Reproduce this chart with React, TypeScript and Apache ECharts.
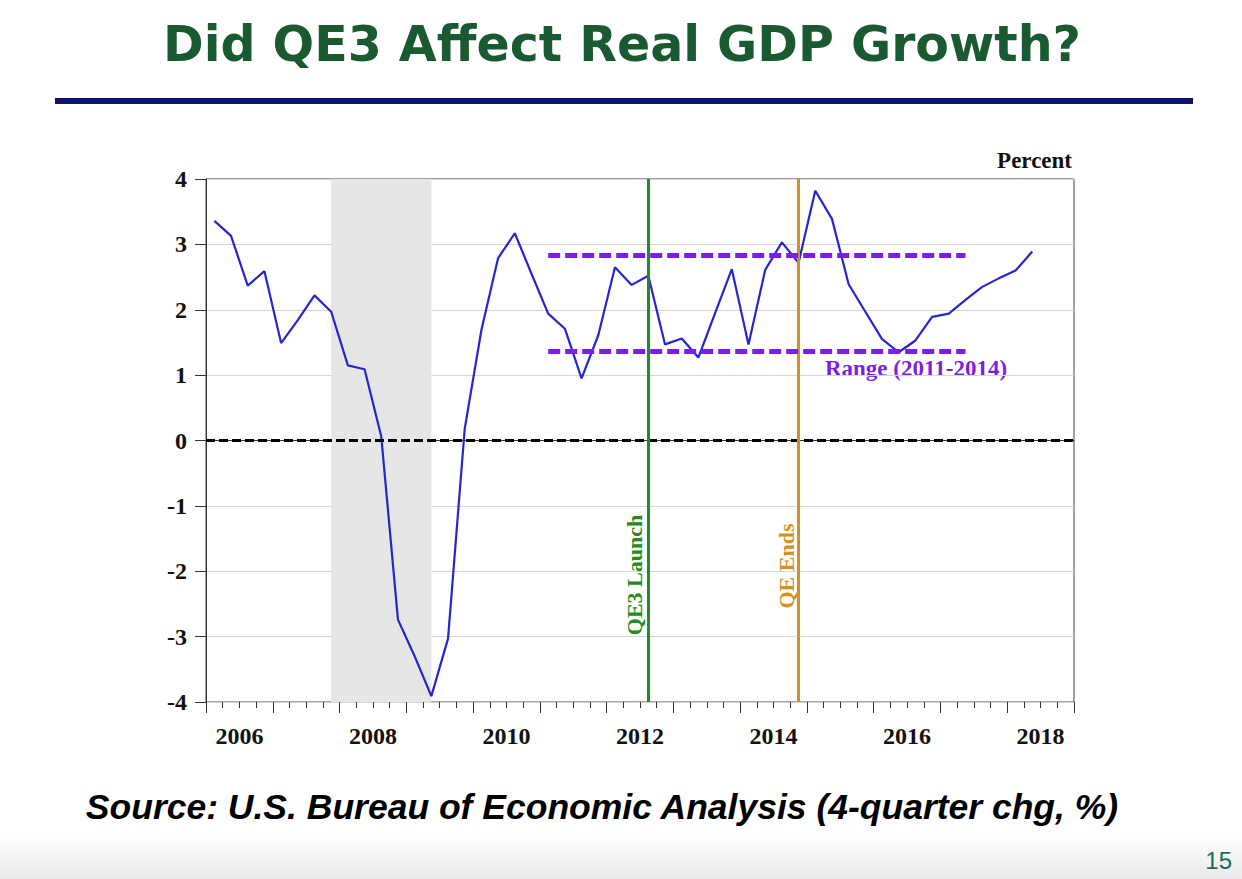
import React, { useEffect, useRef } from "react";
import * as echarts from "echarts";

// ---- data ----
const START_YEAR = 2006;
const AXIS_QUARTERS = 52; // 2006Q1 .. 2018Q4
// Real GDP, 4-quarter % change, 2006Q1 .. 2018Q2
const gdpGrowth = [
  3.36, 3.13, 2.37, 2.59, 1.49, 1.84, 2.22, 1.97, 1.15, 1.09,
  0.06, -2.74, -3.3, -3.91, -3.03, 0.18, 1.69, 2.79, 3.17, 2.55,
  1.94, 1.71, 0.95, 1.61, 2.65, 2.38, 2.52, 1.47, 1.56, 1.27,
  1.95, 2.62, 1.47, 2.61, 3.03, 2.72, 3.82, 3.39, 2.39, 1.97,
  1.55, 1.35, 1.53, 1.89, 1.94, 2.15, 2.35, 2.48, 2.6, 2.89,
];
const recessionQuarters = ["2007Q4", "2009Q2"];
const eventQuarters = ["2012Q3", "2014Q4"];
const eventLabels = ["QE3 Launch", "QE Ends"];
const rangeQuarters = ["2011Q1", "2017Q2"];
const rangeLevels = [2.84, 1.36];
const yTicks = { min: -4, max: 4, interval: 1 };

const qPos = (q: string) => {
  const y = parseInt(q.slice(0, 4), 10);
  const n = parseInt(q.slice(5), 10);
  return (y - START_YEAR) * 4 + (n - 1) + 0.5;
};

const SERIF = "'Liberation Serif', 'Times New Roman', serif";
const SANS = "'Liberation Sans', Arial, sans-serif";
const GREEN = "#228B22";
const ORANGE = "#D4911C";
const PURPLE = "#7B1FE4";

export default function App() {
  const ref = useRef<HTMLDivElement>(null);
  useEffect(() => {
    if (!ref.current) return;
    const chart = echarts.init(ref.current, undefined, { renderer: "svg" });
    const eventColors = [GREEN, ORANGE];
    const option: any = {
      animation: false,
      backgroundColor: "#ffffff",
      grid: {
        left: 206,
        right: 168,
        top: 179,
        bottom: 177,
        show: true,
        borderColor: "#444",
        borderWidth: 1,
        backgroundColor: "transparent",
      },
      xAxis: [
        {
          type: "value",
          min: 0,
          max: AXIS_QUARTERS,
          interval: 2,
          position: "bottom",
          axisLine: { show: true, lineStyle: { color: "#333", width: 1 } },
          axisTick: { show: false },
          splitLine: { show: false },
          axisLabel: {
            margin: 22,
            fontFamily: SERIF,
            fontWeight: "bold",
            fontSize: 24,
            color: "#111",
            formatter: (v: number) =>
              v % 8 === 2 ? String(START_YEAR + (v - 2) / 4) : "",
          },
        },
        {
          type: "value",
          min: 0,
          max: AXIS_QUARTERS,
          interval: 4,
          position: "bottom",
          axisLine: { show: false },
          axisTick: { show: true, length: 11, lineStyle: { color: "#333" } },
          minorTick: { show: true, splitNumber: 4, length: 6, lineStyle: { color: "#333" } },
          axisLabel: { show: false },
          splitLine: { show: false },
        },
      ],
      yAxis: {
        type: "value",
        min: yTicks.min,
        max: yTicks.max,
        interval: yTicks.interval,
        axisLine: { show: true, lineStyle: { color: "#333" } },
        axisTick: { show: true, length: 11, lineStyle: { color: "#333" } },
        splitLine: { show: true, lineStyle: { color: "#d6d6d6", width: 1 } },
        axisLabel: {
          margin: 19,
          fontFamily: SERIF,
          fontWeight: "bold",
          fontSize: 24,
          color: "#111",
        },
      },
      series: [
        {
          type: "line",
          xAxisIndex: 0,
          data: gdpGrowth.map((v, i) => [i + 0.5, v]),
          symbol: "none",
          lineStyle: { color: "#2626cc", width: 2.2 },
          z: 3,
          markArea: {
            silent: true,
            itemStyle: { color: "#e6e6e6" },
            data: [[{ xAxis: qPos(recessionQuarters[0]) }, { xAxis: qPos(recessionQuarters[1]) }]],
          },
          markLine: {
            silent: true,
            symbol: ["none", "none"],
            label: { show: false },
            data: [
              { yAxis: 0, lineStyle: { color: "#000", width: 3, type: [9, 4] } },
              ...eventQuarters.map((q, i) => ({
                xAxis: qPos(q),
                lineStyle: { color: eventColors[i], width: 3, type: "solid" },
              })),
              ...rangeLevels.map((lv) => [
                { coord: [qPos(rangeQuarters[0]), lv] },
                { coord: [qPos(rangeQuarters[1]), lv], lineStyle: { color: PURPLE, width: 5, type: [12, 5] } },
              ]),
            ],
          },
        },
      ],
      graphic: [
        {
          type: "rect",
          z: -1,
          shape: { x: 0, y: 836, width: 1242, height: 43 },
          style: {
            fill: new echarts.graphic.LinearGradient(0, 0, 0, 1, [
              { offset: 0, color: "#ffffff" },
              { offset: 1, color: "#e9e9e9" },
            ]),
          },
        },
        {
          type: "rect",
          shape: { x: 55, y: 98, width: 1138, height: 6 },
          style: { fill: "#0f0f6e" },
        },
        {
          type: "text",
          x: 622,
          y: 44,
          style: {
            text: "Did QE3 Affect Real GDP Growth?",
            fill: "#1a5a31",
            font: `bold 49px 'DejaVu Sans', sans-serif`,
            align: "center",
            verticalAlign: "middle",
          },
        },
        {
          type: "text",
          x: 1072,
          y: 160,
          style: {
            text: "Percent",
            fill: "#111",
            font: `bold 23px ${SERIF}`,
            align: "right",
            verticalAlign: "middle",
          },
        },
        {
          type: "text",
          x: 916,
          y: 368,
          style: {
            text: "Range (2011-2014)",
            fill: PURPLE,
            font: `bold 23px ${SERIF}`,
            align: "center",
            verticalAlign: "middle",
          },
        },
        {
          type: "text",
          x: 634,
          y: 575,
          rotation: Math.PI / 2,
          style: {
            text: eventLabels[0],
            fill: GREEN,
            font: `bold 22px ${SERIF}`,
            align: "center",
            verticalAlign: "middle",
          },
        },
        {
          type: "text",
          x: 786,
          y: 566,
          rotation: Math.PI / 2,
          style: {
            text: eventLabels[1],
            fill: ORANGE,
            font: `bold 22px ${SERIF}`,
            align: "center",
            verticalAlign: "middle",
          },
        },
        {
          type: "text",
          x: 602,
          y: 807,
          style: {
            text: "Source: U.S. Bureau of Economic Analysis (4-quarter chg, %)",
            fill: "#000",
            font: `italic bold 35.5px ${SANS}`,
            align: "center",
            verticalAlign: "middle",
          },
        },
        {
          type: "text",
          x: 1232,
          y: 860,
          style: {
            text: "15",
            fill: "#1a6b5c",
            font: `24px ${SANS}`,
            align: "right",
            verticalAlign: "middle",
          },
        },
      ],
    };
    chart.setOption(option);
    return () => chart.dispose();
  }, []);
  return (
    <div
      ref={ref}
      style={{ position: "absolute", left: 0, top: 0, width: 1242, height: 879 }}
    />
  );
}
